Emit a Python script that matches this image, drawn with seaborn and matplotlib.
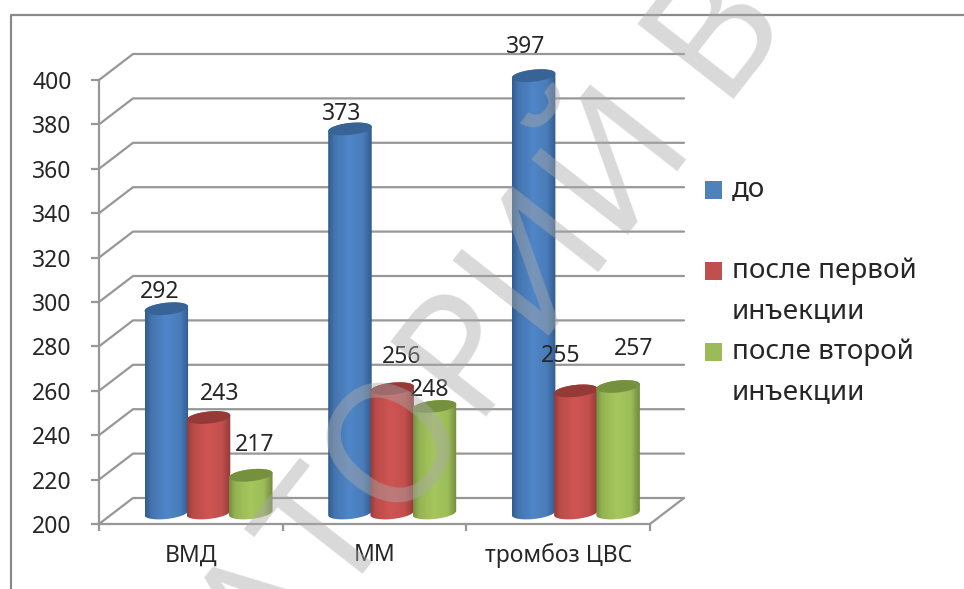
import numpy as np
import pandas as pd
import matplotlib
matplotlib.use("Agg")
import matplotlib.pyplot as plt
from matplotlib.colors import LinearSegmentedColormap
from matplotlib.lines import Line2D
from matplotlib.patches import Polygon, Rectangle
from matplotlib.transforms import IdentityTransform
import seaborn as sns

# Values per diagnosis, one list per measurement time
groups = ["ВМД", "ММ", "тромбоз ЦВС"]
before = [292, 373, 397]
after_first = [243, 256, 255]
after_second = [217, 248, 257]
periods = ["до", "после первой инъекции", "после второй инъекции"]
y_ticks = list(range(200, 401, 20))

W, H = 964, 589
sns.set_theme(style="white")
plt.rcParams["font.family"] = ["Noto Sans", "DejaVu Sans"]

TEXT = "#262626"
LINE = "#979797"
LW = 1.6  # points

fig = plt.figure(figsize=(W / 100, H / 100), dpi=100, facecolor="white")


def frame_rect(left, right, top, bottom):
    return [left / W, 1 - bottom / H, (right - left) / W, (bottom - top) / H]


# Front plane of the 3D box: carries the axis lines, ticks and tick labels
ax = fig.add_axes(frame_rect(99, 650, 80, 524), facecolor="none")
ax.set_xlim(-0.5, 2.5)
ax.set_ylim(200, 400)
for side in ("top", "right"):
    ax.spines[side].set_visible(False)
for side in ("left", "bottom"):
    ax.spines[side].set_color(LINE)
    ax.spines[side].set_linewidth(LW)
ax.set_yticks(y_ticks)
ax.set_xticks([-0.5, 0.5, 1.5, 2.5])
ax.set_xticklabels([])
ax.set_xticks([0, 1, 2], labels=groups, minor=True)
ax.tick_params(axis="y", length=8 * 0.72, width=LW, color=LINE, labelsize=16.5,
               labelcolor=TEXT, pad=14, left=True)
ax.tick_params(axis="x", which="major", length=7 * 0.72, width=LW, color=LINE, bottom=True)
ax.tick_params(axis="x", which="minor", length=0, labelsize=16.5, labelcolor=TEXT, pad=14)

# Walls: each grid line runs from the front edge back to the rear plane and across
DEPTH_X, DEPTH_Y = 34, 26
to_px = ax.transData.transform
for v in y_ticks:
    x0, y0 = to_px((-0.5, v))
    x1, _ = to_px((2.5, v))
    fig.add_artist(Line2D([x0, x0 + DEPTH_X, x1 + DEPTH_X], [y0, y0 + DEPTH_Y, y0 + DEPTH_Y],
                          transform=IdentityTransform(), color=LINE, lw=LW, zorder=-1))
x1, y1 = to_px((2.5, 200))
fig.add_artist(Line2D([x1, x1 + DEPTH_X], [y1, y1 + DEPTH_Y],
                      transform=IdentityTransform(), color=LINE, lw=LW, zorder=-1))

# Bars live on a plane halfway into the box
bar_ax = fig.add_axes(frame_rect(116.7, 667.7, 69, 513), facecolor="none")
table = pd.DataFrame({
    "group": groups * 3,
    "period": np.repeat(periods, 3),
    "value": before + after_first + after_second,
})
base_colors = ["#4f81bd", "#c0504d", "#9bbb59"]
sns.barplot(data=table, x="group", y="value", hue="period", hue_order=periods,
            palette=base_colors, width=0.69, gap=0, legend=False, ax=bar_ax)
bar_ax.set_xlim(-0.5, 2.5)
bar_ax.set_ylim(200, 400)
bar_ax.axis("off")

px_y = 200 / 444
RX_EXTRA = 1.03
ELL_H, ELL_TILT = 6, 2.2

shades = [
    ("#2f5c90", "#4474ad", "#4f86c8", "#4a7cb9", "#2f5b8e", "#376396"),
    ("#933b39", "#bb4c49", "#cf5553", "#c14f4c", "#903a38", "#963a38"),
    ("#768e40", "#94b453", "#a6c75d", "#9cbc59", "#72893d", "#76913d"),
]
stops = [0.0, 0.14, 0.48, 0.8, 1.0]
# Label offsets in pixels from the centre of each bar's top
label_offsets = [
    [(-7, 17), (-8, 15), (-8, 29)],
    [(11, 24), (9, 32), (-15, 35)],
    [(4, 30), (-5, 16), (16, 37)],
]
grad = np.linspace(0, 1, 128).reshape(1, -1)

for s, container in enumerate(bar_ax.containers):
    cmap = LinearSegmentedColormap.from_list(f"c{s}", list(zip(stops, shades[s][:5])))
    for g, bar in enumerate(container):
        bar.set_visible(False)
        xc = bar.get_x() + bar.get_width() / 2
        half = bar.get_width() / 2 * RX_EXTRA
        top = bar.get_y() + bar.get_height()
        lower = np.linspace(np.pi, 2 * np.pi, 40)
        upper = np.linspace(0, np.pi, 40)
        ell = lambda t, yc: np.column_stack(
            [xc + half * np.cos(t),
             yc + px_y * (ELL_H * np.sin(t) + ELL_TILT * np.cos(t))])
        body = Polygon(np.vstack([ell(lower, 200), ell(upper, top)]),
                       transform=bar_ax.transData)
        image = bar_ax.imshow(grad, cmap=cmap, aspect="auto", zorder=2 + s,
                              extent=(xc - half, xc + half, 195, top + 5))
        image.set_clip_path(body)
        image.set_clip_box(fig.bbox)
        bar_ax.add_patch(Polygon(ell(np.linspace(0, 2 * np.pi, 60), top),
                                 facecolor=shades[s][5], edgecolor="none",
                                 zorder=2 + s + 0.5, clip_on=False))
        dx, dy = label_offsets[s][g]
        bar_ax.annotate(f"{top:.0f}", (xc, top), xytext=(dx * 0.72, dy * 0.72),
                        textcoords="offset points", ha="center", va="center",
                        fontsize=16.5, color=TEXT, zorder=10)
bar_ax.set_xlim(-0.5, 2.5)
bar_ax.set_ylim(200, 400)

# Legend
legend_rows = [(190, ["до"]), (271, ["после первой", "инъекции"]), (352, ["после второй", "инъекции"])]
for color, (ypos, lines) in zip(base_colors, legend_rows):
    fig.add_artist(Rectangle((705 / W, 1 - (ypos + 9) / H), 17 / W, 18 / H,
                             transform=fig.transFigure, facecolor=color, edgecolor="none"))
    for n, line in enumerate(lines):
        fig.text(732 / W, 1 - (ypos + 40 * n) / H, line, fontsize=20, color=TEXT,
                 ha="left", va="center")

# Outer frame, open on the right and at the bottom
fig.add_artist(Line2D([11 / W, 11 / W, 1], [0, 1 - 15 / H, 1 - 15 / H],
                      transform=fig.transFigure, color="#8a8a8a", lw=1.6))

# Diagonal watermark across the chart
fig.text(498 / W, 1 - 330 / H, "АТОРИЙ В", fontsize=122, fontweight="bold",
         rotation=52, rotation_mode="anchor", ha="center", va="center",
         color=(170 / 255,) * 3, alpha=0.45, zorder=20)

fig.savefig("out.png", dpi=100)
